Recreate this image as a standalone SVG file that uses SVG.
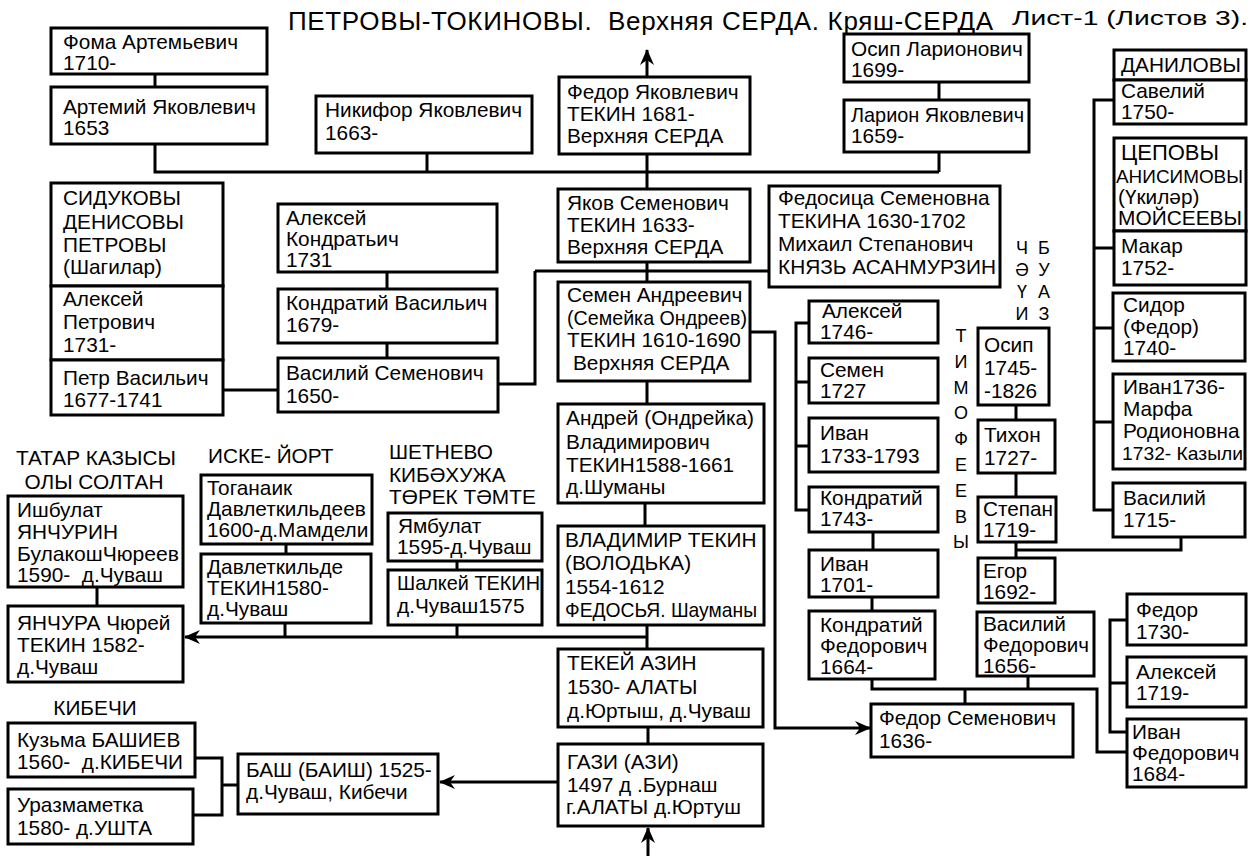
<svg xmlns="http://www.w3.org/2000/svg" width="1256" height="856" viewBox="0 0 1256 856">
<style>
.b{fill:#fff;stroke:#000;stroke-width:3}
.t{font-family:"Liberation Sans",Arial,sans-serif;font-size:20.8px;fill:#000}
.c{fill:none;stroke:#000;stroke-width:3}
.a{fill:none;stroke:#000;stroke-width:3;marker-end:url(#ah)}
.l{font-family:"Liberation Sans",Arial,sans-serif;font-size:20.8px;fill:#000}
.v{font-family:"Liberation Sans",Arial,sans-serif;font-size:18px;fill:#000;text-anchor:middle}
</style>
<defs>
<marker id="ah" viewBox="0 0 16 14" refX="15" refY="7" markerWidth="16" markerHeight="14" markerUnits="userSpaceOnUse" orient="auto">
<path d="M0,0 L16,7 L0,14 L5,7 z" fill="#000"/>
</marker>
</defs>
<rect width="1256" height="856" fill="#fff"/>
<text class="l" x="288" y="30" style="font-size:26px" textLength="705" xml:space="preserve">ПЕТРОВЫ-ТОКИНОВЫ.  Верхняя СЕРДА. Кряш-СЕРДА</text>
<text class="l" x="1012" y="25" style="font-size:21px" textLength="236" lengthAdjust="spacingAndGlyphs">Лист-1 (Листов 3).</text>
<g id="connectors">
<path class="c" d="M155,74V87M155,144V172H939M427,153V172M647,154V189M939,82V100M939,152V172"/>
<path class="a" d="M647,77V50"/>
<path class="c" d="M647,262V282M535,271H769M535,271V384H498M223,390H278M387,272V289M387,343V358"/>
<path class="c" d="M647,381V404M645,503V526M647,625V649M648,727V744"/>
<path class="a" d="M647,637H185"/>
<path class="c" d="M285,623V637M457,625V637M97,587V606M286,544V554M457,561V570"/>
<path class="a" d="M558,782H440"/>
<path class="a" d="M648,856V828"/>
<path class="c" d="M195,758H222V815H193M222,785H238"/>
<path class="a" d="M750,332H775V728H870"/>
<path class="c" d="M809,323H796V510H809M796,382H809M796,446H809M873,532V550M872,597V611"/>
<path class="c" d="M872,679V689H1097V752H1127M1028,676V689M965,689V704"/>
<path class="c" d="M1127,620H1110V732H1127M1110,683H1127"/>
<path class="c" d="M1016,405V420M1016,473V497M1016,542V558M1016,550H1181V537"/>
<path class="c" d="M1114,100H1094V510H1113M1094,248H1114M1094,328H1113M1094,422H1113"/>
</g>
<g id="n-foma"><rect class="b" x="51" y="28" width="216" height="46"/><text class="t" x="63" y="49">Фома Артемьевич</text><text class="t" x="63" y="70">1710-</text></g>
<g id="n-artemiy"><rect class="b" x="51" y="87" width="216" height="57"/><text class="t" x="63" y="114">Артемий Яковлевич</text><text class="t" x="63" y="135">1653</text></g>
<g id="n-nikifor"><rect class="b" x="316" y="96" width="216" height="57"/><text class="t" x="325" y="117">Никифор Яковлевич</text><text class="t" x="325" y="140">1663-</text></g>
<g id="n-fedor-ya"><rect class="b" x="559" y="77" width="191" height="77"/><text class="t" x="567" y="99">Федор Яковлевич</text><text class="t" x="567" y="121">ТЕКИН 1681-</text><text class="t" x="567" y="143">Верхняя СЕРДА</text></g>
<g id="n-osip-l"><rect class="b" x="844" y="34" width="185" height="48"/><text class="t" x="851" y="56">Осип Ларионович</text><text class="t" x="851" y="77">1699-</text></g>
<g id="n-larion"><rect class="b" x="844" y="100" width="185" height="52"/><text class="t" x="851" y="122" textLength="173" lengthAdjust="spacingAndGlyphs">Ларион Яковлевич</text><text class="t" x="851" y="143">1659-</text></g>
<g id="n-danilovy"><rect class="b" x="1114" y="50" width="132" height="30"/><text class="t" x="1121" y="72">ДАНИЛОВЫ</text></g>
<g id="n-saveliy"><rect class="b" x="1114" y="80" width="132" height="44"/><text class="t" x="1121" y="98">Савелий</text><text class="t" x="1121" y="119">1750-</text></g>
<g id="n-tsepovy"><rect class="b" x="1114" y="138" width="132" height="93"/><text class="t" x="1121" y="160" style="font-size:22px">ЦЕПОВЫ</text><text class="t" x="1116" y="183" style="font-size:18px" textLength="127" lengthAdjust="spacingAndGlyphs">АНИСИМОВЫ</text><text class="t" x="1118" y="204">(Үкиләр)</text><text class="t" x="1118" y="225" textLength="124" lengthAdjust="spacingAndGlyphs">МОЙСЕЕВЫ</text></g>
<g id="n-makar"><rect class="b" x="1114" y="231" width="132" height="54"/><text class="t" x="1121" y="253">Макар</text><text class="t" x="1121" y="275">1752-</text></g>
<g id="n-sidor"><rect class="b" x="1113" y="293" width="132" height="68"/><text class="t" x="1123" y="312">Сидор</text><text class="t" x="1123" y="334">(Федор)</text><text class="t" x="1123" y="355">1740-</text></g>
<g id="n-ivan1736"><rect class="b" x="1113" y="374" width="132" height="95"/><text class="t" x="1123" y="394">Иван1736-</text><text class="t" x="1123" y="416">Марфа</text><text class="t" x="1123" y="438">Родионовна</text><text class="t" x="1122" y="460" style="font-size:19px" textLength="121" lengthAdjust="spacingAndGlyphs">1732- Казыли</text></g>
<g id="n-vasiliy1715"><rect class="b" x="1113" y="483" width="132" height="54"/><text class="t" x="1123" y="505">Василий</text><text class="t" x="1123" y="527">1715-</text></g>
<g id="n-sidukovy"><rect class="b" x="51" y="183" width="172" height="103"/><text class="t" x="63" y="205">СИДУКОВЫ</text><text class="t" x="63" y="229">ДЕНИСОВЫ</text><text class="t" x="63" y="252">ПЕТРОВЫ</text><text class="t" x="63" y="274">(Шагилар)</text></g>
<g id="n-aleksey-p"><rect class="b" x="51" y="286" width="172" height="74"/><text class="t" x="63" y="306">Алексей</text><text class="t" x="63" y="329">Петрович</text><text class="t" x="63" y="352">1731-</text></g>
<g id="n-petr"><rect class="b" x="51" y="360" width="172" height="55"/><text class="t" x="63" y="385">Петр Васильич</text><text class="t" x="63" y="407">1677-1741</text></g>
<g id="n-aleksey-k"><rect class="b" x="278" y="204" width="219" height="68"/><text class="t" x="286" y="225">Алексей</text><text class="t" x="286" y="246">Кондратьич</text><text class="t" x="286" y="267">1731</text></g>
<g id="n-kondratiy-v"><rect class="b" x="278" y="289" width="219" height="54"/><text class="t" x="286" y="310">Кондратий Васильич</text><text class="t" x="286" y="332">1679-</text></g>
<g id="n-vasiliy-s"><rect class="b" x="278" y="358" width="220" height="54"/><text class="t" x="286" y="380">Василий Семенович</text><text class="t" x="286" y="403">1650-</text></g>
<g id="n-yakov"><rect class="b" x="558" y="189" width="192" height="73"/><text class="t" x="567" y="210">Яков Семенович</text><text class="t" x="567" y="232">ТЕКИН 1633-</text><text class="t" x="567" y="254">Верхняя СЕРДА</text></g>
<g id="n-fedositsa"><rect class="b" x="769" y="186" width="231" height="101"/><text class="t" x="778" y="205">Федосица Семеновна</text><text class="t" x="778" y="228">ТЕКИНА 1630-1702</text><text class="t" x="778" y="251">Михаил Степанович</text><text class="t" x="778" y="274" textLength="218" lengthAdjust="spacingAndGlyphs">КНЯЗЬ АСАНМУРЗИН</text></g>
<g id="n-semen-a"><rect class="b" x="558" y="282" width="192" height="99"/><text class="t" x="567" y="302">Семен Андреевич</text><text class="t" x="567" y="325" textLength="180" lengthAdjust="spacingAndGlyphs">(Семейка Ондреев)</text><text class="t" x="567" y="347">ТЕКИН 1610-1690</text><text class="t" x="573" y="370">Верхняя СЕРДА</text></g>
<g id="n-andrey"><rect class="b" x="558" y="404" width="206" height="99"/><text class="t" x="566" y="425" textLength="188" lengthAdjust="spacingAndGlyphs">Андрей (Ондрейка)</text><text class="t" x="566" y="449">Владимирович</text><text class="t" x="566" y="472">ТЕКИН1588-1661</text><text class="t" x="566" y="494">д.Шуманы</text></g>
<g id="n-vladimir"><rect class="b" x="558" y="526" width="206" height="99"/><text class="t" x="565" y="547">ВЛАДИМИР ТЕКИН</text><text class="t" x="565" y="570">(ВОЛОДЬКА)</text><text class="t" x="565" y="594">1554-1612</text><text class="t" x="565" y="617" textLength="192" lengthAdjust="spacingAndGlyphs">ФЕДОСЬЯ. Шауманы</text></g>
<g id="n-tekey"><rect class="b" x="558" y="649" width="205" height="78"/><text class="t" x="567" y="670">ТЕКЕЙ АЗИН</text><text class="t" x="567" y="694">1530- АЛАТЫ</text><text class="t" x="567" y="718">д.Юртыш, д.Чуваш</text></g>
<g id="n-gazi"><rect class="b" x="558" y="744" width="205" height="82"/><text class="t" x="567" y="769">ГАЗИ (АЗИ)</text><text class="t" x="567" y="792">1497 д .Бурнаш</text><text class="t" x="566" y="814">г.АЛАТЫ д.Юртуш</text></g>
<g id="n-bash"><rect class="b" x="238" y="754" width="200" height="60"/><text class="t" x="246" y="777">БАШ (БАИШ) 1525-</text><text class="t" x="246" y="799">д.Чуваш, Кибечи</text></g>
<g id="n-kuzma"><rect class="b" x="8" y="723" width="187" height="54"/><text class="t" x="17" y="747">Кузьма БАШИЕВ</text><text class="t" x="17" y="769" xml:space="preserve">1560-  д.КИБЕЧИ</text></g>
<g id="n-urazmametka"><rect class="b" x="8" y="789" width="185" height="55"/><text class="t" x="17" y="812">Уразмаметка</text><text class="t" x="17" y="835">1580- д.УШТА</text></g>
<g id="n-yanchura"><rect class="b" x="8" y="606" width="175" height="76"/><text class="t" x="17" y="630">ЯНЧУРА Чюрей</text><text class="t" x="17" y="652">ТЕКИН 1582-</text><text class="t" x="17" y="674">д.Чуваш</text></g>
<g id="n-ishbulat"><rect class="b" x="8" y="496" width="175" height="91"/><text class="t" x="17" y="517">Ишбулат</text><text class="t" x="17" y="539">ЯНЧУРИН</text><text class="t" x="17" y="561" textLength="162" lengthAdjust="spacingAndGlyphs">БулакошЧюреев</text><text class="t" x="17" y="582" xml:space="preserve">1590-  д.Чуваш</text></g>
<g id="n-toganaik"><rect class="b" x="201" y="475" width="171" height="69"/><text class="t" x="207" y="495">Тоганаик</text><text class="t" x="207" y="516">Давлеткильдеев</text><text class="t" x="207" y="537">1600-д.Мамдели</text></g>
<g id="n-davletkilde"><rect class="b" x="201" y="554" width="170" height="69"/><text class="t" x="207" y="574">Давлеткильде</text><text class="t" x="207" y="595">ТЕКИН1580-</text><text class="t" x="207" y="616">д.Чуваш</text></g>
<g id="n-yambulat"><rect class="b" x="388" y="513" width="154" height="48"/><text class="t" x="398" y="533">Ямбулат</text><text class="t" x="397" y="554">1595-д.Чуваш</text></g>
<g id="n-shalkey"><rect class="b" x="388" y="570" width="154" height="55"/><text class="t" x="397" y="590" textLength="143" lengthAdjust="spacingAndGlyphs">Шалкей ТЕКИН</text><text class="t" x="397" y="613">д.Чуваш1575</text></g>
<g id="n-aleksey1746"><rect class="b" x="809" y="301" width="129" height="42"/><text class="t" x="822" y="318">Алексей</text><text class="t" x="820" y="339">1746-</text></g>
<g id="n-semen1727"><rect class="b" x="809" y="358" width="129" height="45"/><text class="t" x="820" y="377">Семен</text><text class="t" x="820" y="398">1727</text></g>
<g id="n-ivan1733"><rect class="b" x="809" y="418" width="129" height="54"/><text class="t" x="820" y="440">Иван</text><text class="t" x="820" y="463">1733-1793</text></g>
<g id="n-kondratiy1743"><rect class="b" x="809" y="487" width="129" height="45"/><text class="t" x="820" y="505">Кондратий</text><text class="t" x="820" y="526">1743-</text></g>
<g id="n-ivan1701"><rect class="b" x="809" y="550" width="129" height="47"/><text class="t" x="820" y="571">Иван</text><text class="t" x="820" y="592">1701-</text></g>
<g id="n-kondratiy-f"><rect class="b" x="809" y="611" width="126" height="68"/><text class="t" x="820" y="632">Кондратий</text><text class="t" x="820" y="653">Федорович</text><text class="t" x="820" y="674">1664-</text></g>
<g id="n-osip1745"><rect class="b" x="978" y="328" width="71" height="77"/><text class="t" x="984" y="352">Осип</text><text class="t" x="984" y="375">1745-</text><text class="t" x="984" y="398">-1826</text></g>
<g id="n-tikhon"><rect class="b" x="978" y="420" width="77" height="53"/><text class="t" x="984" y="442">Тихон</text><text class="t" x="984" y="465">1727-</text></g>
<g id="n-stepan"><rect class="b" x="978" y="497" width="78" height="45"/><text class="t" x="983" y="516" textLength="70" lengthAdjust="spacingAndGlyphs">Степан</text><text class="t" x="983" y="537">1719-</text></g>
<g id="n-egor"><rect class="b" x="978" y="558" width="77" height="45"/><text class="t" x="983" y="578">Егор</text><text class="t" x="983" y="599">1692-</text></g>
<g id="n-vasiliy-f"><rect class="b" x="977" y="612" width="117" height="64"/><text class="t" x="983" y="631">Василий</text><text class="t" x="983" y="652" textLength="106" lengthAdjust="spacingAndGlyphs">Федорович</text><text class="t" x="983" y="673">1656-</text></g>
<g id="n-fedor-s"><rect class="b" x="871" y="704" width="202" height="53"/><text class="t" x="879" y="725">Федор Семенович</text><text class="t" x="879" y="748">1636-</text></g>
<g id="n-fedor1730"><rect class="b" x="1127" y="594" width="119" height="51"/><text class="t" x="1136" y="617">Федор</text><text class="t" x="1136" y="639">1730-</text></g>
<g id="n-aleksey1719"><rect class="b" x="1127" y="657" width="119" height="50"/><text class="t" x="1136" y="679">Алексей</text><text class="t" x="1136" y="700">1719-</text></g>
<g id="n-ivan-f"><rect class="b" x="1127" y="719" width="119" height="68"/><text class="t" x="1132" y="739">Иван</text><text class="t" x="1132" y="760">Федорович</text><text class="t" x="1132" y="781">1684-</text></g>
<g id="labels">
<text class="l" x="96" y="465" text-anchor="middle">ТАТАР КАЗЫСЫ</text>
<text class="l" x="94" y="489" text-anchor="middle">ОЛЫ СОЛТАН</text>
<text class="l" x="208" y="463">ИСКЕ- ЙОРТ</text>
<text class="l" x="389" y="459">ШЕТНЕВО</text>
<text class="l" x="389" y="482">КИБӘХУЖА</text>
<text class="l" x="389" y="504">ТӨРЕК ТӘМТЕ</text>
<text class="l" x="95" y="715" text-anchor="middle">КИБЕЧИ</text>
<text class="v" x="961" y="342">Т</text><text class="v" x="961" y="368">И</text><text class="v" x="961" y="394">М</text><text class="v" x="961" y="419">О</text><text class="v" x="961" y="445">Ф</text><text class="v" x="961" y="471">Е</text><text class="v" x="961" y="497">Е</text><text class="v" x="961" y="523">В</text><text class="v" x="961" y="548">Ы</text>
<text class="v" x="1022" y="254">Ч</text><text class="v" x="1022" y="276">Ә</text><text class="v" x="1022" y="298">Ү</text><text class="v" x="1022" y="320">И</text>
<text class="v" x="1044" y="254">Б</text><text class="v" x="1044" y="276">У</text><text class="v" x="1044" y="298">А</text><text class="v" x="1044" y="320">З</text>
</g>
</svg>
